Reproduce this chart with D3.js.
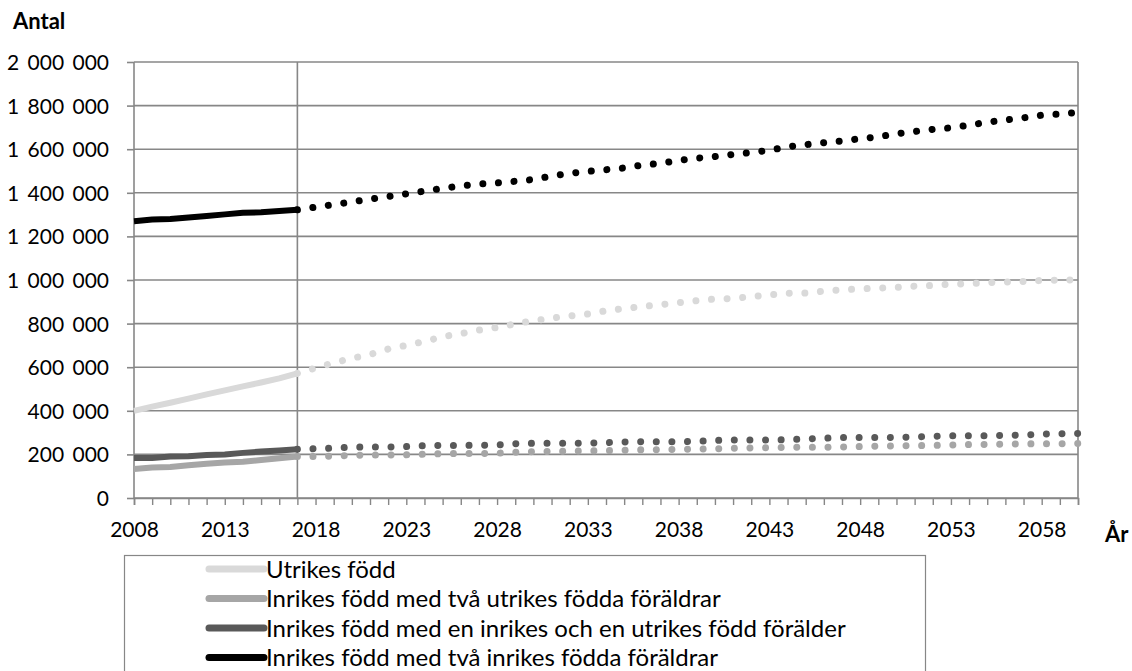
<!DOCTYPE html>
<html>
<head>
<meta charset="utf-8">
<script src="https://cdn.jsdelivr.net/npm/d3@7"></script>
<style>
  html, body { margin: 0; padding: 0; background: #fff; }
  svg { display: block; }
  text { font-family: Lato, "Open Sans", sans-serif; fill: #000; }
</style>
</head>
<body>
<svg id="chart" width="1132" height="671"></svg>
<script>
// ---- data (values in thousands of persons) ----
const years = [2008,2009,2010,2011,2012,2013,2014,2015,2016,2017,
  2018,2019,2020,2021,2022,2023,2024,2025,2026,2027,
  2028,2029,2030,2031,2032,2033,2034,2035,2036,2037,
  2038,2039,2040,2041,2042,2043,2044,2045,2046,2047,
  2048,2049,2050,2051,2052,2053,2054,2055,2056,2057,
  2058,2059,2060];
const lastObservedYear = 2017;
const xTickLabels = [2008,2013,2018,2023,2028,2033,2038,2043,2048,2053,2058];
const yTickValues = [0,200,400,600,800,1000,1200,1400,1600,1800,2000];

const utrikesFodd = [400,419,437,456,475,494,512,530,549,572,
  596,620,641,658,683,700,718,740,754,770,
  782,799,813,825,835,844,859,869,878,887,
  896,905,913,915,924,932,939,940,949,955,
  959,963,966,972,975,981,983,988,991,993,
  998,999,1001];
const tvaUtrikesForaldrar = [133,140,142,150,157,163,166,174,182,190,
  190,192,196,197,197,198,201,203,204,204,
  205,210,213,214,215,216,217,219,221,222,
  223,224,226,228,230,231,232,233,233,234,
  236,238,239,240,241,243,245,246,247,248,
  249,249,250];
const enInrikesEnUtrikes = [183,183,190,192,197,200,207,213,218,224,
  226,229,233,234,234,236,240,241,241,242,
  243,249,251,251,251,252,254,257,258,258,
  258,260,264,266,266,266,267,271,274,277,
  277,277,278,280,283,286,286,286,287,289,
  293,295,296];
const tvaInrikesForaldrar = [1270,1277,1280,1287,1294,1301,1308,1311,1317,1322,
  1334,1346,1358,1371,1383,1395,1408,1420,1432,1440,
  1445,1453,1461,1477,1489,1498,1506,1514,1527,1535,
  1548,1559,1566,1576,1585,1595,1611,1621,1630,1638,
  1648,1657,1671,1681,1691,1698,1710,1724,1734,1744,
  1756,1761,1769];

const seriesNames = [
  "Utrikes född",
  "Inrikes född med två utrikes födda föräldrar",
  "Inrikes född med en inrikes och en utrikes född förälder",
  "Inrikes född med två inrikes födda föräldrar"
];
const seriesValues = [utrikesFodd, tvaUtrikesForaldrar, enInrikesEnUtrikes, tvaInrikesForaldrar];
const seriesColors = ["#d9d9d9", "#a6a6a6", "#595959", "#000000"];
const yTitle = "Antal";
const xTitle = "År";

// ---- layout ----
const svg = d3.select("#chart");
const L = 134, R = 1078, T = 62, B = 498;
const x = d3.scaleLinear().domain([2008, 2060]).range([L, R]);
const y = d3.scaleLinear().domain([0, 2000]).range([B, T]);
const gridColor = "#878787";

const loc = d3.formatLocale({decimal: ",", thousands: " ", grouping: [3], currency: ["", " kr"]});
const fmt = loc.format(",.0f");

// horizontal gridlines
svg.append("g").selectAll("line").data(yTickValues).join("line")
  .attr("x1", L).attr("x2", R)
  .attr("y1", d => y(d)).attr("y2", d => y(d))
  .attr("stroke", gridColor).attr("stroke-width", 1.6);

// vertical border lines and observation/forecast divider
svg.append("g").selectAll("line").data([2008, lastObservedYear, 2060]).join("line")
  .attr("x1", d => x(d)).attr("x2", d => x(d))
  .attr("y1", T).attr("y2", B)
  .attr("stroke", gridColor).attr("stroke-width", 1.6);

// y axis
const yAxis = d3.axisLeft(y).tickValues(yTickValues)
  .tickFormat(d => fmt(d * 1000)).tickSize(7).tickPadding(18);
const gy = svg.append("g").attr("transform", `translate(${L},0)`).call(yAxis);
gy.select(".domain").remove();
gy.selectAll(".tick line").attr("stroke", gridColor).attr("stroke-width", 1.6);
gy.selectAll(".tick text").attr("font-size", 21).attr("font-family", "Lato")
  .style("word-spacing", "3px").attr("dy", "0.36em");

// x axis
const xAxis = d3.axisBottom(x).tickValues(years).tickSize(7).tickPadding(17)
  .tickFormat(d => xTickLabels.includes(d) ? String(d) : "");
const gx = svg.append("g").attr("transform", `translate(0,${B})`).call(xAxis);
gx.select(".domain").attr("stroke", gridColor).attr("stroke-width", 1.6);
gx.selectAll(".tick line").attr("stroke", gridColor).attr("stroke-width", 1.4);
gx.selectAll(".tick text").attr("font-size", 21).attr("font-family", "Lato");

// titles
svg.append("text").attr("x", 13).attr("y", 29).attr("font-size", 22)
  .attr("font-weight", "bold").text(yTitle);
svg.append("text").attr("x", 1105).attr("y", 542).attr("font-size", 22)
  .attr("font-weight", "bold").text(xTitle);

// lines
const line = d3.line().x(d => x(d.year)).y(d => y(d.value));
seriesValues.forEach((vals, i) => {
  const pts = years.map((yr, j) => ({year: yr, value: vals[j]}));
  const obs = pts.filter(p => p.year <= lastObservedYear);
  const fc = pts.filter(p => p.year >= lastObservedYear);
  svg.append("path").datum(obs).attr("d", line)
    .attr("fill", "none").attr("stroke", seriesColors[i])
    .attr("stroke-width", 6).attr("stroke-linejoin", "round");
  svg.append("path").datum(fc).attr("d", line)
    .attr("fill", "none").attr("stroke", seriesColors[i])
    .attr("stroke-width", 7).attr("stroke-linecap", "round")
    .attr("stroke-dasharray", "0.01 15.6");
});

// legend
const lg = svg.append("g");
lg.append("rect").attr("x", 124.5).attr("y", 555.5).attr("width", 801).attr("height", 140)
  .attr("fill", "#fff").attr("stroke", "#878787").attr("stroke-width", 1.2);
const rowY = [569, 598.5, 628, 657.5];
seriesNames.forEach((name, i) => {
  lg.append("line").attr("x1", 209).attr("x2", 264)
    .attr("y1", rowY[i]).attr("y2", rowY[i])
    .attr("stroke", seriesColors[i]).attr("stroke-width", 7).attr("stroke-linecap", "round");
  lg.append("text").attr("x", 266).attr("y", rowY[i] + 8.5).attr("font-size", 24)
    .text(name);
});
</script>
</body>
</html>
